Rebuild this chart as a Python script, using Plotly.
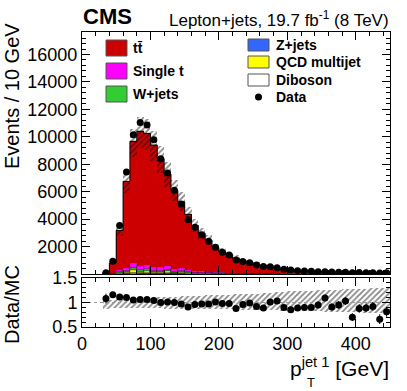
import numpy as np
import plotly.graph_objects as go
from plotly.subplots import make_subplots

# bins of 10 GeV, leading jet pT
bin_lo = [30, 40, 50, 60, 70, 80, 90, 100, 110, 120, 130, 140, 150, 160, 170, 180, 190, 200, 210, 220, 230,
          240, 250, 260, 270, 280, 290, 300, 310, 320, 330, 340, 350, 360, 370, 380, 390, 400, 410, 420, 430, 440]

data = [100, 930, 3530, 7430, 10150, 11040, 10870, 9780, 8400, 7360, 6100, 5100, 3960, 3400, 2870, 2390, 1950,
        1580, 1380, 1020, 920, 820, 650, 540, 520, 460, 340, 290, 245, 220, 195, 170, 170, 145, 135, 125, 95,
        110, 100, 95, 70, 85]

ttbar = [80, 740, 2890, 6340, 8870, 9810, 9600, 8920, 7920, 6730, 5760, 4850, 4060, 3350, 2770, 2300, 1790,
         1490, 1310, 1070, 880, 760, 650, 555, 470, 405, 345, 305, 245, 220, 190, 160, 135, 145, 125, 105, 120,
         112, 100, 92, 95, 94]
single_t = [5, 30, 140, 200, 330, 290, 310, 240, 230, 250, 170, 200, 150, 100, 100, 85, 75, 65, 55, 50, 45, 40,
            35, 30, 27, 24, 20, 18, 16, 14, 12, 11, 10, 9, 8, 7, 7, 6, 6, 5, 5, 5]
wjets = [2, 12, 70, 90, 150, 130, 140, 110, 110, 110, 80, 90, 65, 45, 45, 38, 33, 28, 24, 21, 19, 17, 15, 13,
         11, 10, 9, 8, 7, 6, 6, 5, 5, 4, 4, 4, 3, 3, 3, 3, 3, 3]
zjets = [1, 5, 25, 35, 60, 50, 55, 40, 40, 45, 30, 35, 25, 15, 15, 13, 11, 10, 8, 7, 6, 5, 5, 4, 4, 3, 3, 3,
         2, 2, 2, 2, 2, 2, 1, 1, 1, 1, 1, 1, 1, 1]
qcd = [2, 10, 45, 70, 220, 100, 120, 70, 80, 130, 45, 70, 40, 25, 25, 20, 15, 13, 10, 9, 8, 6, 5, 5, 4, 4, 3,
       3, 3, 2, 2, 2, 2, 1, 1, 1, 1, 1, 1, 1, 1, 1]
diboson = [0, 3, 10, 15, 40, 30, 25, 20, 20, 25, 15, 15, 10, 5, 5, 4, 6, 4, 3, 3, 2, 2, 2, 2, 2, 1, 1, 1, 1,
           1, 1, 1, 1, 1, 1, 1, 1, 1, 1, 1, 1, 1]

ratio = [1.08, 1.16, 1.11, 1.10, 1.05, 1.06, 1.06, 1.04, 1.00, 1.01, 1.00, 0.97, 0.91, 0.96, 0.97, 0.97, 1.01,
         0.98, 0.98, 0.88, 0.96, 0.99, 0.92, 0.89, 1.01, 1.03, 0.90, 0.85, 0.89, 0.90, 0.90, 0.95, 1.09, 0.91,
         0.95, 1.03, 0.70, 0.88, 0.89, 0.92, 0.66, 0.81]
ratio_err = [0.10, 0.04, 0.02, 0.01, 0.01, 0.01, 0.01, 0.01, 0.01, 0.01, 0.01, 0.01, 0.02, 0.02, 0.02, 0.02,
             0.02, 0.03, 0.03, 0.03, 0.03, 0.04, 0.04, 0.04, 0.04, 0.05, 0.05, 0.05, 0.06, 0.06, 0.06, 0.07,
             0.07, 0.07, 0.08, 0.08, 0.08, 0.09, 0.09, 0.09, 0.10, 0.10]

# relative MC uncertainty band
unc_hi = [1.05, 1.06, 1.07, 1.08, 1.09, 1.10, 1.10, 1.11, 1.11, 1.12, 1.12, 1.13, 1.13, 1.14, 1.14, 1.15, 1.15,
          1.16, 1.16, 1.17, 1.17, 1.18, 1.18, 1.19, 1.20, 1.21, 1.22, 1.23, 1.23, 1.24, 1.24, 1.25, 1.25, 1.26,
          1.26, 1.27, 1.27, 1.28, 1.28, 1.29, 1.29, 1.30]
unc_lo = [0.87, 0.88, 0.88, 0.88, 0.88, 0.88, 0.88, 0.88, 0.88, 0.87, 0.87, 0.87, 0.87, 0.87, 0.86, 0.86, 0.86,
          0.86, 0.86, 0.85, 0.85, 0.85, 0.85, 0.84, 0.84, 0.84, 0.83, 0.83, 0.83, 0.82, 0.82, 0.82, 0.81, 0.81,
          0.81, 0.80, 0.80, 0.80, 0.79, 0.79, 0.78, 0.78]

y_ticks = [2000, 4000, 6000, 8000, 10000, 12000, 14000, 16000]

W = 407
H = 391
L, R, T, B = 82, 390, 32, 327   # plot area in pixels

def px(x):
    return (x - L) / (R - L)

def py(y):
    return (B - y) / (B - T)

centers = np.array(bin_lo) + 5
samples = [("Diboson", diboson, "#ffffff"),
           ("Z+jets", zjets, "#3366ff"),
           ("QCD multijet", qcd, "#ffff00"),
           ("W+jets", wjets, "#33cc33"),
           ("Single t", single_t, "#ff00ff"),
           ("ttbar", ttbar, "#cc0000")]

fig = make_subplots(rows=2, cols=1, shared_xaxes=True)

base = np.zeros(len(bin_lo))
for name, vals, col in samples:
    vals = np.array(vals, dtype=float)
    lw = 0 if name == "ttbar" else 0.6
    fig.add_trace(go.Bar(x=centers, y=vals, base=base, width=10, marker_color=col,
                         marker_line=dict(width=lw, color="rgba(0,0,0,0.7)"), showlegend=False), row=1, col=1)
    base = base + vals
mc_total = base

hatch = dict(color="rgba(0,0,0,0)",
             pattern=dict(shape="/", fgcolor="#111111", bgcolor="rgba(0,0,0,0)", size=4, solidity=0.45,
                          fillmode="overlay"),
             line=dict(width=0))
fig.add_trace(go.Bar(x=centers, y=mc_total * (np.array(unc_hi) - np.array(unc_lo)),
                     base=mc_total * np.array(unc_lo), width=10, marker=hatch, showlegend=False), row=1, col=1)

# MC outline
step_x = [bin_lo[0]] + bin_lo + [bin_lo[-1] + 10]
step_y = [0] + list(mc_total) + [mc_total[-1]]
fig.add_trace(go.Scatter(x=step_x, y=step_y, mode="lines", line=dict(color="black", width=1, shape="hv"),
                         showlegend=False), row=1, col=1)

fig.add_trace(go.Scatter(x=centers, y=data, mode="markers", marker=dict(color="black", size=7),
                         showlegend=False), row=1, col=1)

# ratio panel
fig.add_trace(go.Bar(x=centers, y=np.array(unc_hi) - np.array(unc_lo), base=unc_lo, width=10, marker=hatch,
                     showlegend=False), row=2, col=1)
fig.add_trace(go.Scatter(x=[0, 450], y=[1, 1], mode="lines", line=dict(color="#999999", width=1, dash="dot"),
                         showlegend=False), row=2, col=1)
fig.add_trace(go.Scatter(x=centers, y=ratio, mode="markers", marker=dict(color="black", size=7),
                         error_y=dict(type="data", array=ratio_err, color="black", thickness=1, width=0),
                         showlegend=False), row=2, col=1)

axis_common = dict(showline=True, linecolor="black", linewidth=1, mirror="allticks", ticks="inside",
                   tickcolor="black", ticklen=8, showgrid=False, zeroline=False, automargin=False,
                   tickfont=dict(family="Liberation Sans", size=18, color="black"))

fig.update_layout(
    width=W, height=H, barmode="overlay", bargap=0,
    plot_bgcolor="white", paper_bgcolor="white",
    margin=dict(l=L, r=W - R, t=T, b=H - B),
    font=dict(family="Liberation Sans", color="black"),
    xaxis=dict(axis_common, range=[0, 450], showticklabels=False, dtick=100,
               minor=dict(dtick=20, ticklen=4, ticks="inside", tickcolor="black")),
    xaxis2=dict(axis_common, range=[0, 450], tickvals=[0, 100, 200, 300, 400],
                ticktext=["0", "100", "200", "300", "400"],
                minor=dict(dtick=20, ticklen=4, ticks="inside", tickcolor="black")),
    yaxis=dict(axis_common, range=[0, 17640], domain=[py(274), 1],
               tickvals=y_ticks, ticktext=[str(v) for v in y_ticks],
               minor=dict(dtick=400, ticklen=4, ticks="inside", tickcolor="black")),
    yaxis2=dict(axis_common, range=[0.5, 1.5], domain=[0, py(278)],
                tickvals=[0.5, 1, 1.5], ticktext=["0.5", "1", "1.5"],
                minor=dict(dtick=0.1, ticklen=4, ticks="inside", tickcolor="black")),
)

ann = []
ann.append(dict(text="Events / 10 GeV", x=px(12), y=py(21), xref="paper", yref="paper", textangle=-90,
                xanchor="center", yanchor="top", showarrow=False, font=dict(size=20)))
ann.append(dict(text="Data/MC", x=px(12), y=py(305), xref="paper", yref="paper", textangle=-90,
                xanchor="center", yanchor="middle", showarrow=False, font=dict(size=20)))
ann.append(dict(text="p<sup>jet 1</sup> [GeV]", x=px(391), y=py(367), xref="paper", yref="paper",
                xanchor="right", yanchor="middle", showarrow=False, font=dict(size=21)))
ann.append(dict(text="T", x=px(305), y=py(382), xref="paper", yref="paper",
                xanchor="left", yanchor="middle", showarrow=False, font=dict(size=13)))
ann.append(dict(text="<b>CMS</b>", x=px(81), y=py(17), xref="paper", yref="paper",
                xanchor="left", yanchor="middle", showarrow=False, font=dict(size=22)))
ann.append(dict(text="Lepton+jets, 19.7 fb<sup>-1</sup> (8 TeV)", x=px(391), y=py(19), xref="paper",
                yref="paper", xanchor="right", yanchor="middle", showarrow=False, font=dict(size=17)))

shapes = []
legend_left = [("tt\u0304", "#cc0000", 48), ("Single t", "#ff00ff", 71), ("W+jets", "#33cc33", 94)]
for label, col, yc in legend_left:
    shapes.append(dict(type="rect", xref="paper", yref="paper", x0=px(106), x1=px(127), y0=py(yc - 8),
                       y1=py(yc + 8), fillcolor=col, line=dict(color="#555555", width=1)))
    ann.append(dict(text="<b>" + label + "</b>", x=px(131), y=py(yc), xref="paper", yref="paper",
                    xanchor="left", yanchor="middle", showarrow=False, font=dict(size=14)))
legend_right = [("Z+jets", "#3366ff", 45), ("QCD multijet", "#ffff00", 62), ("Diboson", "#ffffff", 80)]
for label, col, yc in legend_right:
    shapes.append(dict(type="rect", xref="paper", yref="paper", x0=px(248), x1=px(269), y0=py(yc - 6),
                       y1=py(yc + 6), fillcolor=col, line=dict(color="#555555", width=1)))
    ann.append(dict(text="<b>" + label + "</b>", x=px(274), y=py(yc), xref="paper", yref="paper",
                    xanchor="left", yanchor="middle", showarrow=False, font=dict(size=14)))
shapes.append(dict(type="circle", xref="paper", yref="paper", x0=px(255), x1=px(262), y0=py(93.5),
                   y1=py(100.5), fillcolor="black", line=dict(color="black", width=0)))
ann.append(dict(text="<b>Data</b>", x=px(274), y=py(97), xref="paper", yref="paper",
                xanchor="left", yanchor="middle", showarrow=False, font=dict(size=14)))

fig.update_layout(annotations=ann, shapes=shapes)

fig.write_html("out.html", config={"displayModeBar": False},
               post_script="document.body.style.margin='0';")
